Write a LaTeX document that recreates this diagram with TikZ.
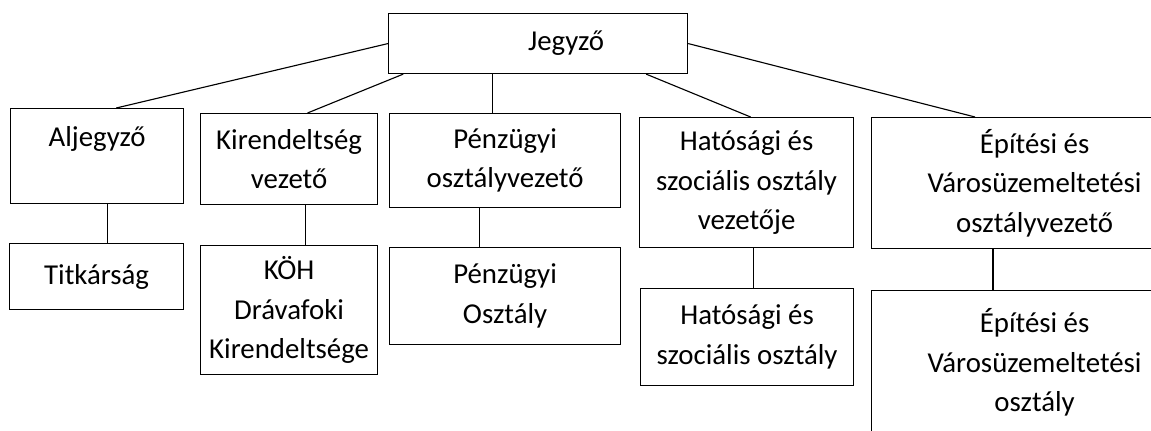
\documentclass[tikz,border=0pt]{standalone}
\usepackage{fontspec}
\setmainfont{Carlito}
\begin{document}
\begin{tikzpicture}[
    x = 0.025cm,
    y = -0.025cm,
    line width = 0.8pt,
    every node/.style = {draw, anchor = north west, align = center, inner sep = 0pt,
        font = \fontsize{20.5pt}{28pt}\selectfont}
]
\useasboundingbox (0,0) rectangle (1151,431);
\node (jegyzo) at (388,13) [minimum width = 7.475cm, minimum height = 1.5cm] {\hspace*{1.4cm}Jegyző};
% upper row
\node (aljegyzo) at (10,108) [minimum width = 4.325cm, minimum height = 2.375cm] {Aljegyző\\ \mbox{}};
\node (kirend) at (200,113) [minimum width = 4.425cm, minimum height = 2.275cm] {Kirendeltség\\ vezető};
\node (penzv) at (389,113) [minimum width = 5.775cm, minimum height = 2.35cm] {Pénzügyi\\ osztályvezető};
\node (hatv) at (639,117) [minimum width = 5.35cm, minimum height = 3.25cm] {Hatósági és\\ szociális osztály\\ vezetője};
\node (epitv) at (871,117) [minimum width = 8.15cm, minimum height = 3.275cm] {Építési és\\ Városüzemeltetési\\ osztályvezető};
% lower row
\node (titkar) at (9,243) [minimum width = 4.35cm, minimum height = 1.65cm] {Titkárság};
\node (koh) at (200,245) [minimum width = 4.425cm, minimum height = 3.225cm] {KÖH\\ Drávafoki\\ Kirendeltsége};
\node (penzo) at (389,247) [minimum width = 5.775cm, minimum height = 2.425cm] {Pénzügyi\\ Osztály};
\node (hato) at (640,288) [minimum width = 5.325cm, minimum height = 2.425cm] {Hatósági és\\ szociális osztály};
\node (epito) at (871,290) [minimum width = 8.15cm, minimum height = 3.6cm] {Építési és\\ Városüzemeltetési\\ osztály};
% lines from the top box
\draw (jegyzo.west) -- ([xshift = 0.48cm]aljegyzo.north);
\draw ([xshift = 0.38cm]jegyzo.south west) -- ([xshift = 0.46cm]kirend.north);
\draw ([xshift = -0.31cm]penzv.north) -- ([xshift = -0.31cm]penzv.north |- jegyzo.south);
\draw ([xshift = -1.05cm]jegyzo.south east) -- ([xshift = 0.1cm]hatv.north);
\draw (jegyzo.east) -- ([xshift = 2.6cm]epitv.north west);
% lines down
\draw ([xshift = 0.27cm]aljegyzo.south) -- ([xshift = 0.27cm]aljegyzo.south |- titkar.north);
\draw ([xshift = 0.41cm]kirend.south) -- ([xshift = 0.41cm]kirend.south |- koh.north);
\draw ([xshift = -0.64cm]penzv.south) -- ([xshift = -0.64cm]penzv.south |- penzo.north);
\draw ([xshift = 0.18cm]hatv.south) -- ([xshift = 0.18cm]hatv.south |- hato.north);
\draw ([xshift = 3.05cm]epitv.south west) -- ([xshift = 3.05cm]epitv.south west |- epito.north);

\end{tikzpicture}
\end{document}
